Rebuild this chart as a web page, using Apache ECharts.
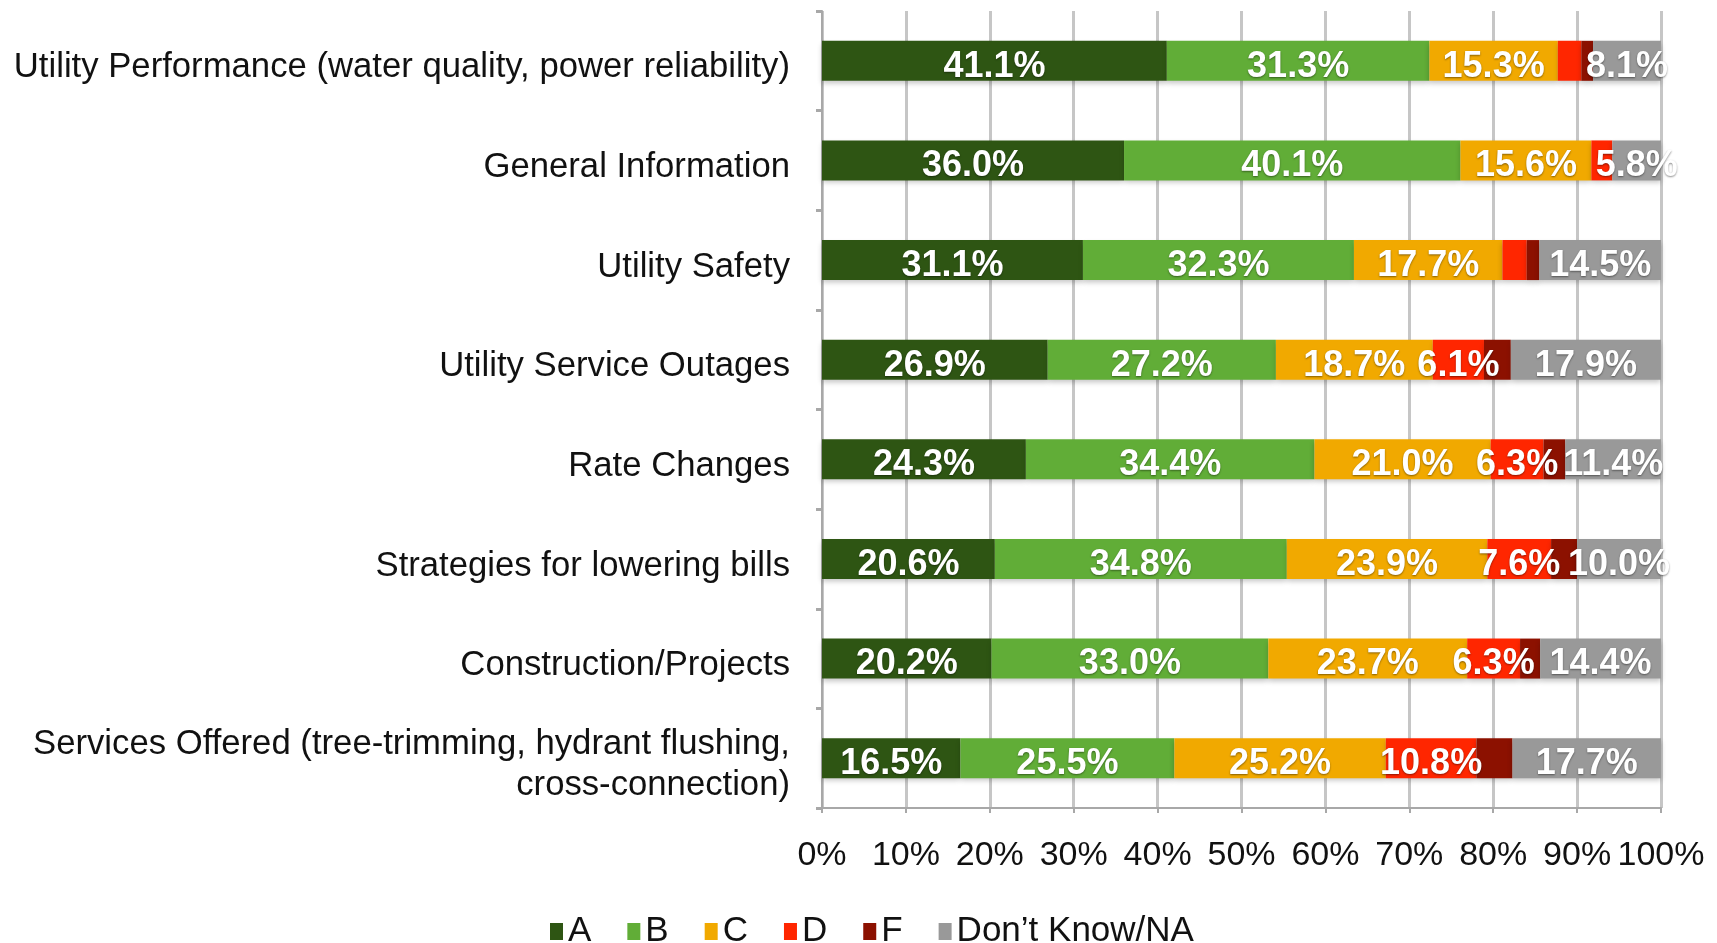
<!DOCTYPE html>
<html>
<head>
<meta charset="utf-8">
<title>Grades by topic</title>
<script src="https://cdn.jsdelivr.net/npm/echarts@6/dist/echarts.min.js"></script>
<style>
	html, body { margin: 0; padding: 0; background: #fff; }
	#main { width: 1717px; height: 943px; }
</style>
</head>
<body>
<div id="main"></div>
<script>
// categories, top to bottom
var topics = [
	'Utility Performance (water quality, power reliability)',
	'General Information',
	'Utility Safety',
	'Utility Service Outages',
	'Rate Changes',
	'Strategies for lowering bills',
	'Construction/Projects',
	'Services Offered (tree-trimming, hydrant flushing,\ncross-connection)'
];
var grades = ['A', 'B', 'C', 'D', 'F', 'Don\u2019t Know/NA'];
var gradeA = [41.1, 36.0, 31.1, 26.9, 24.3, 20.6, 20.2, 16.5];
var gradeB = [31.3, 40.1, 32.3, 27.2, 34.4, 34.8, 33.0, 25.5];
var gradeC = [15.3, 15.6, 17.7, 18.7, 21.0, 23.9, 23.7, 25.2];
var gradeD = [2.8, 2.5, 2.9, 6.1, 6.3, 7.6, 6.3, 10.8];
var gradeF = [1.4, 0, 1.5, 3.2, 2.6, 3.1, 2.4, 4.3];
var gradeNA = [8.1, 5.8, 14.5, 17.9, 11.4, 10.0, 14.4, 17.7];
var ticks = [0, 10, 20, 30, 40, 50, 60, 70, 80, 90, 100];
var colors = ['#2e5513', '#61ad37', '#f1a900', '#ff2600', '#8c1100', '#999999'];

var font = '"Liberation Sans", Arial, Helvetica, sans-serif';

function makeSeries(name, values, color) {
	return {
		name: name,
		type: 'bar',
		stack: 'total',
		barWidth: 40,
		data: values,
		itemStyle: {
			color: color,
			shadowColor: 'rgba(0,0,0,0.22)',
			shadowBlur: 5,
			shadowOffsetY: 3
		},
		label: {
			show: true,
			position: 'inside',
			offset: [0, 6],
			color: '#fff',
			fontFamily: font,
			fontWeight: 'bold',
			fontSize: 36,
			textShadowColor: 'rgba(0,0,0,0.45)',
			textShadowBlur: 2,
			textShadowOffsetY: 1,
			// small segments carry no label in the original
			formatter: function(p) {
				return p.value >= 5 ? p.value.toFixed(1) + '%' : '';
			}
		}
	};
}

var chart = echarts.init(document.getElementById('main'));
var series = [
	makeSeries(grades[0], gradeA, colors[0]),
	makeSeries(grades[1], gradeB, colors[1]),
	makeSeries(grades[2], gradeC, colors[2]),
	makeSeries(grades[3], gradeD, colors[3]),
	makeSeries(grades[4], gradeF, colors[4]),
	makeSeries(grades[5], gradeNA, colors[5])
];

var option = {
	animation: false,
	backgroundColor: '#fff',
	grid: {
		left: 822,
		right: 56,
		top: 11,
		bottom: 135,
		containLabel: false
	},
	legend: {
		data: grades,
		left: 545,
		top: 909,
		itemWidth: 13,
		itemHeight: 17,
		itemGap: 36,
		icon: 'rect',
		textStyle: {
			fontFamily: font,
			fontSize: 35,
			color: '#111'
		}
	},
	xAxis: {
		type: 'value',
		min: ticks[0],
		max: ticks[ticks.length - 1],
		interval: ticks[1] - ticks[0],
		axisLine: { show: true, lineStyle: { color: '#a8a8a8', width: 2 } },
		axisTick: { show: true, length: 5, lineStyle: { color: '#a8a8a8', width: 2 } },
		splitLine: { show: true, lineStyle: { color: '#c6c6c6', width: 3 } },
		axisLabel: {
			margin: 31,
			fontFamily: font,
			fontSize: 34,
			color: '#111',
			formatter: '{value}%'
		}
	},
	yAxis: {
		type: 'category',
		inverse: true,
		data: topics,
		axisLine: { show: true, lineStyle: { color: '#a8a8a8', width: 2 } },
		axisTick: { show: true, length: 6, lineStyle: { color: '#a8a8a8', width: 3 } },
		axisLabel: {
			margin: 32,
			color: '#111',
			align: 'right',
			// nudge the text a little lower, one rich run per line
			formatter: function(v) {
				return v.split('\n').map(function(s) { return '{t|' + s + '}'; }).join('\n');
			},
			rich: {
				t: {
					fontFamily: font,
					fontSize: 34.7,
					lineHeight: 41,
					color: '#111',
					padding: [14, 0, 0, 0]
				}
			}
		}
	},
	series: series
};

chart.setOption(option);
</script>
</body>
</html>
